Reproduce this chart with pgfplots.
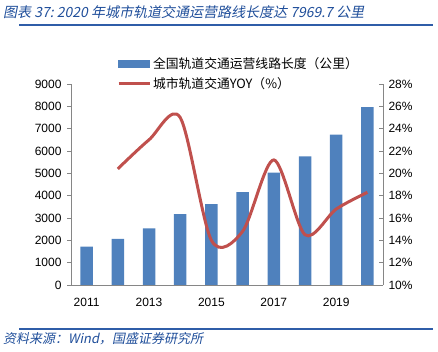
\documentclass[border=0pt]{standalone}
\usepackage{pgfplots}
\pgfplotsset{compat=1.18}
\usepackage{fontspec}
\setmainfont{Liberation Sans}
\newfontfamily\cjk{Noto Sans CJK SC}
\newfontfamily\cjkit[FakeSlant=0.2]{Noto Sans CJK SC}
\definecolor{barblue}{HTML}{4F81BD}
\definecolor{linered}{HTML}{C0504D}
\definecolor{axgray}{HTML}{868686}
\definecolor{titleblue}{HTML}{1F4E9A}
\definecolor{rule}{HTML}{2F5DA8}
\begin{document}
\begin{tikzpicture}[x=1pt,y=1pt]
\useasboundingbox (0,0) rectangle (438,352);
% title
\node[anchor=west, text=titleblue, font=\cjkit\fontsize{14}{15}\selectfont, inner sep=0] at (3,339.5) {图表 37:\ 2020 年城市轨道交通运营路线长度达 7969.7 公里};
\draw[rule, line width=2.2pt] (19,327) -- (433,327);
% source
\draw[rule, line width=1.3pt] (19,23) -- (433,23);
\node[anchor=west, text=titleblue, font=\cjkit\fontsize{13}{14}\selectfont, inner sep=0] at (3,13) {资料来源：Wind，国盛证券研究所};

\begin{axis}[
  at={(71pt,67pt)}, anchor=south west,
  scale only axis, width=312pt, height=201pt,
  xmin=-0.5, xmax=9.5, ymin=0, ymax=9000,
  axis x line*=bottom, axis y line*=left,
  axis line style={axgray, line width=0.8pt},
  every tick/.style={axgray, line width=0.8pt},
  xtick={0,2,4,6,8}, xticklabels={2011,2013,2015,2017,2019},
  major tick length=4pt,
  tick align=outside,
  x tick style={draw=none},
  extra x ticks={-0.5,1.5,3.5,5.5,7.5,9.5}, extra x tick labels={},
  extra x tick style={tick align=inside, tick style={draw=axgray, line width=0.8pt}},
  ytick={0,1000,...,9000},
  tick label style={font=\fontsize{12}{14}\selectfont},
  /pgf/number format/assume math mode=true,
  /pgf/number format/1000 sep={},
  yticklabel style={xshift=-2pt},
  xticklabel style={yshift=-6pt},
  clip=false,
]
\addplot[ybar, bar width=12.5pt, fill=barblue, draw=none] coordinates {
(0,1714) (1,2064) (2,2539) (3,3173) (4,3618) (5,4153) (6,5033) (7,5761) (8,6730) (9,7969.7)};
\end{axis}

\begin{axis}[
  at={(71pt,67pt)}, anchor=south west,
  scale only axis, width=312pt, height=201pt,
  xmin=-0.5, xmax=9.5, ymin=10, ymax=28,
  axis x line=none, axis y line*=right,
  axis line style={axgray, line width=0.8pt},
  every tick/.style={axgray, line width=0.8pt},
  ytick={10,12,...,28},
  yticklabel={\pgfmathprintnumber{\tick}\%},
  tick align=inside,
  major tick length=4pt,
  tick label style={font=\fontsize{12}{14}\selectfont},
  /pgf/number format/assume math mode=true,
  yticklabel style={xshift=2pt},
  clip=false,
  legend style={at={(0.147,1.145)}, anchor=north west, draw=none, fill=none,
    font=\cjk\fontsize{12.8}{14}\selectfont, row sep=4pt, inner sep=0pt,
    legend cell align=left},
]
\addlegendimage{legend image code/.code={\fill[barblue] (0pt,-3.5pt) rectangle (31pt,3.5pt);}}
\addlegendentry{全国轨道交通运营线路长度（公里）}
\addplot[linered, line width=3pt, smooth, tension=0.5,
  legend image code/.code={\draw[linered, line width=3pt] (0pt,0pt) -- (31pt,0pt);}]
 coordinates {(1,20.4) (2,23.0) (3,25.0) (4,14.0) (5,14.8) (6,21.2) (7,14.5) (8,16.8) (9,18.3)};
\addlegendentry{城市轨道交通YOY（\%）}
\end{axis}
\end{tikzpicture}
\end{document}
